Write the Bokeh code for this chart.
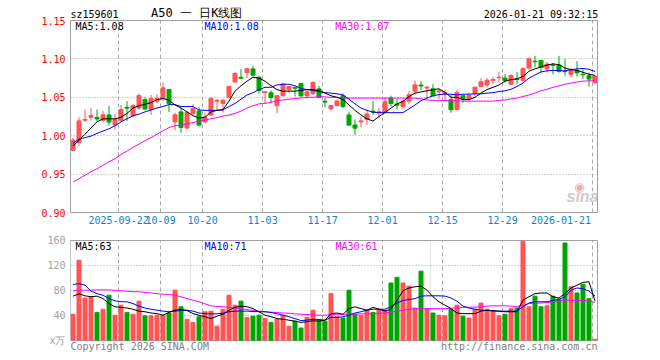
from bokeh.plotting import figure
from bokeh.models import (ColumnDataSource, FixedTicker, Label, Range1d, PrintfTickFormatter,
                          Grid, LinearAxis, CustomJSTickFormatter)
from bokeh.layouts import column
from bokeh.embed import file_html
from bokeh.resources import INLINE

# ---------------- data ----------------
dates = [
    "2025-09-10", "2025-09-11", "2025-09-12", "2025-09-15", "2025-09-16", "2025-09-17", "2025-09-18", "2025-09-19",
    "2025-09-22", "2025-09-23", "2025-09-24", "2025-09-25", "2025-09-26", "2025-09-29", "2025-09-30",
    "2025-10-09", "2025-10-10", "2025-10-13", "2025-10-14", "2025-10-15", "2025-10-16", "2025-10-17",
    "2025-10-20", "2025-10-21", "2025-10-22", "2025-10-23", "2025-10-24", "2025-10-27", "2025-10-28",
    "2025-10-29", "2025-10-30", "2025-10-31",
    "2025-11-03", "2025-11-04", "2025-11-05", "2025-11-06", "2025-11-07", "2025-11-10", "2025-11-11",
    "2025-11-12", "2025-11-13", "2025-11-14", "2025-11-17", "2025-11-18", "2025-11-19", "2025-11-20",
    "2025-11-21", "2025-11-24", "2025-11-25", "2025-11-26", "2025-11-27", "2025-11-28",
    "2025-12-01", "2025-12-02", "2025-12-03", "2025-12-04", "2025-12-05", "2025-12-08", "2025-12-09",
    "2025-12-10", "2025-12-11", "2025-12-12", "2025-12-15", "2025-12-16", "2025-12-17", "2025-12-18",
    "2025-12-19", "2025-12-22", "2025-12-23", "2025-12-24", "2025-12-25", "2025-12-26", "2025-12-29",
    "2025-12-30", "2025-12-31",
    "2026-01-05", "2026-01-06", "2026-01-07", "2026-01-08", "2026-01-09", "2026-01-12", "2026-01-13",
    "2026-01-14", "2026-01-15", "2026-01-16", "2026-01-19", "2026-01-20", "2026-01-21",
]

opens = [0.981, 0.991, 1.020, 1.024, 1.024, 1.020, 1.027, 1.014, 1.020, 1.037,
         1.026, 1.036, 1.047, 1.034, 1.045, 1.048, 1.060, 1.018, 1.031, 1.010,
         1.029, 1.032, 1.018, 1.027, 1.045, 1.042, 1.050, 1.070, 1.076, 1.082,
         1.087, 1.076, 1.056, 1.056, 1.039, 1.052, 1.060, 1.063, 1.068, 1.052,
         1.055, 1.061, 1.045, 1.035, 1.039, 1.052, 1.027, 1.014, 1.018, 1.021,
         1.032, 1.030, 1.031, 1.049, 1.041, 1.038, 1.045, 1.058, 1.066, 1.062,
         1.061, 1.057, 1.055, 1.047, 1.034, 1.052, 1.048, 1.055, 1.064, 1.066,
         1.072, 1.0755, 1.075, 1.067, 1.074, 1.072, 1.088, 1.097, 1.098, 1.087,
         1.092, 1.092, 1.084, 1.080, 1.085, 1.080, 1.078, 1.069]
closes = [0.994, 1.019, 1.021, 1.026, 1.022, 1.027, 1.018, 1.021, 1.034, 1.036,
          1.039, 1.052, 1.035, 1.048, 1.048, 1.062, 1.042, 1.027, 1.011, 1.030,
          1.035, 1.014, 1.024, 1.048, 1.046, 1.046, 1.064, 1.081, 1.075, 1.087,
          1.079, 1.059, 1.057, 1.050, 1.052, 1.067, 1.064, 1.062, 1.052, 1.057,
          1.069, 1.050, 1.044, 1.039, 1.045, 1.038, 1.014, 1.010, 1.019, 1.028,
          1.031, 1.031, 1.044, 1.042, 1.040, 1.045, 1.053, 1.066, 1.065, 1.063,
          1.052, 1.058, 1.056, 1.034, 1.056, 1.048, 1.052, 1.063, 1.070, 1.072,
          1.073, 1.076, 1.072, 1.078, 1.0735, 1.087, 1.100, 1.0965, 1.089, 1.093,
          1.0915, 1.084, 1.0835, 1.085, 1.082, 1.0795, 1.074, 1.077]
highs = [0.997, 1.024, 1.034, 1.036, 1.034, 1.032, 1.039, 1.028, 1.040, 1.045,
         1.041, 1.055, 1.050, 1.053, 1.054, 1.069, 1.060, 1.030, 1.036, 1.032,
         1.041, 1.037, 1.030, 1.050, 1.048, 1.048, 1.065, 1.083, 1.087, 1.087,
         1.091, 1.078, 1.057, 1.059, 1.052, 1.069, 1.065, 1.063, 1.068, 1.059,
         1.071, 1.065, 1.049, 1.040, 1.047, 1.055, 1.031, 1.021, 1.025, 1.034,
         1.045, 1.036, 1.050, 1.052, 1.048, 1.046, 1.058, 1.072, 1.071, 1.065,
         1.067, 1.061, 1.060, 1.053, 1.060, 1.053, 1.056, 1.063, 1.075, 1.075,
         1.077, 1.083, 1.080, 1.080, 1.083, 1.089, 1.102, 1.104, 1.098, 1.096,
         1.095, 1.104, 1.100, 1.088, 1.097, 1.086, 1.082, 1.079]
lows = [0.980, 0.987, 1.018, 1.020, 1.018, 1.018, 1.013, 1.008, 1.018, 1.019,
        1.024, 1.034, 1.033, 1.027, 1.042, 1.045, 1.031, 1.007, 1.004, 1.008,
        1.027, 1.013, 1.017, 1.026, 1.033, 1.030, 1.049, 1.069, 1.074, 1.075,
        1.077, 1.055, 1.042, 1.042, 1.029, 1.051, 1.056, 1.051, 1.051, 1.048,
        1.053, 1.049, 1.037, 1.033, 1.038, 1.036, 1.013, 1.001, 1.011, 1.014,
        1.027, 1.023, 1.029, 1.038, 1.034, 1.035, 1.041, 1.053, 1.059, 1.048,
        1.051, 1.048, 1.045, 1.030, 1.033, 1.043, 1.045, 1.053, 1.063, 1.063,
        1.067, 1.069, 1.069, 1.066, 1.067, 1.071, 1.086, 1.089, 1.082, 1.082,
        1.080, 1.082, 1.078, 1.076, 1.077, 1.074, 1.064, 1.067]

ma5 = [0.9865, 0.994, 1.002, 1.010, 1.018, 1.022, 1.022, 1.022, 1.024, 1.029,
       1.036, 1.039, 1.041, 1.043, 1.047, 1.0485, 1.046, 1.040, 1.036, 1.031,
       1.026, 1.023, 1.024, 1.031, 1.033, 1.034, 1.045, 1.058, 1.065, 1.071,
       1.076, 1.075, 1.071, 1.065, 1.060, 1.058, 1.058, 1.058, 1.059, 1.060,
       1.060, 1.0585, 1.0555, 1.052, 1.050, 1.047, 1.040, 1.033, 1.027, 1.022,
       1.019, 1.025, 1.030, 1.036, 1.0415, 1.0445, 1.051, 1.0555, 1.057, 1.0585,
       1.060, 1.061, 1.0565, 1.050, 1.050, 1.047, 1.047, 1.050, 1.0555, 1.060,
       1.063, 1.066, 1.071, 1.073, 1.074, 1.077, 1.084, 1.087, 1.0895, 1.092,
       1.0935, 1.0925, 1.088, 1.086, 1.085, 1.0825, 1.080, 1.0785]
ma10 = [0.990, 0.9955, 0.9975, 0.9995, 1.003, 1.006, 1.009, 1.013, 1.018, 1.022,
        1.026, 1.028, 1.031, 1.0335, 1.036, 1.038, 1.0405, 1.0405, 1.038, 1.038,
        1.038, 1.0335, 1.033, 1.033, 1.033, 1.0335, 1.038, 1.042, 1.0475, 1.053,
        1.056, 1.060, 1.063, 1.063, 1.066, 1.067, 1.067, 1.065, 1.0615, 1.060,
        1.059, 1.0575, 1.056, 1.0555, 1.0545, 1.053, 1.0475, 1.0415, 1.036, 1.033,
        1.0305, 1.030, 1.030, 1.030, 1.030, 1.030, 1.035, 1.040, 1.0455, 1.049,
        1.052, 1.0535, 1.054, 1.054, 1.053, 1.054, 1.054, 1.0545, 1.0545, 1.0555,
        1.056, 1.0575, 1.0585, 1.0605, 1.064, 1.0685, 1.075, 1.079, 1.083, 1.0845,
        1.085, 1.085, 1.0845, 1.086, 1.087, 1.0875, 1.0865, 1.0835]
ma30 = [0.9397, 0.944, 0.9485, 0.953, 0.957, 0.9615, 0.966, 0.970, 0.9755, 0.980,
        0.985, 0.989, 0.9935, 0.9975, 1.002, 1.0065, 1.0105, 1.013, 1.014, 1.0155,
        1.017, 1.019, 1.0205, 1.022, 1.0235, 1.0255, 1.027, 1.029, 1.032, 1.036,
        1.039, 1.0415, 1.042, 1.0435, 1.0455, 1.0465, 1.0475, 1.0485, 1.049, 1.050,
        1.050, 1.051, 1.0505, 1.050, 1.050, 1.049, 1.049, 1.049, 1.049, 1.049,
        1.049, 1.049, 1.049, 1.049, 1.049, 1.049, 1.049, 1.049, 1.048, 1.0465,
        1.046, 1.046, 1.046, 1.0455, 1.0455, 1.045, 1.045, 1.045, 1.045, 1.045,
        1.045, 1.046, 1.0465, 1.048, 1.049, 1.051, 1.053, 1.0555, 1.0585, 1.0605,
        1.063, 1.065, 1.067, 1.0685, 1.070, 1.071, 1.0715, 1.0715]

volumes = [42, 128.5, 68, 70, 45, 50, 72.5, 40.5, 56.5, 45,
           42, 63, 39.5, 39.5, 40.5, 40.5, 44, 80.5, 54, 34,
           29, 38, 46, 47, 23, 50, 72.5, 56.5, 63, 37,
           39, 40.5, 35, 29, 34, 40.5, 23, 31, 20, 37,
           48.5, 32.5, 31, 75, 38, 36, 80.5, 42, 40.5, 48.5,
           45, 50, 48.5, 92, 101, 92, 87, 52, 111, 51,
           44, 40.5, 39.5, 50, 56.5, 39, 36, 50, 60, 50,
           47, 39.5, 42, 51, 52, 159, 54, 71, 54, 55.5,
           71, 66, 156, 86, 76, 90, 67, 2]
vma5 = [71, 74.7, 71.5, 70, 71, 67, 59, 54, 53, 52,
        50, 47, 46, 44, 43, 40.5, 45, 48.5, 49.6, 48,
        43, 40.5, 38, 35, 39, 42, 48.5, 53, 55, 54,
        51, 46, 40.5, 38, 35, 34, 32.5, 31, 29, 30,
        31.5, 31, 32.5, 43, 44, 42, 51, 54, 51, 48.5,
        53, 50, 47, 50, 64.5, 79.5, 84, 86, 87, 80.5,
        70, 62, 56.5, 51, 44, 43, 43, 43, 47, 48.5,
        47.5, 47, 46, 46, 46, 64.5, 70, 75, 76, 76,
        70, 68, 75, 84, 88.5, 93, 94, 63]
vma10 = [89.6, 91, 88.5, 79, 75, 72.5, 67, 63.5, 62, 62,
         59, 55, 52, 50, 48.5, 47, 46, 47, 48, 48.5,
         47, 44, 43, 42.7, 42.7, 43.7, 46, 47, 47, 47,
         46.4, 46, 46, 44.8, 42.7, 40.5, 38, 35, 32, 32.5,
         34, 33.6, 32.5, 37, 37, 38, 40.5, 44, 46, 48.5,
         50, 50, 50, 54, 60, 64, 65.6, 67, 71, 71.5,
         71.5, 71.5, 71, 68, 63, 55, 52, 50, 48.5, 48,
         47.5, 47, 47, 47, 47, 54, 60, 62, 62, 62,
         64, 66, 70, 80.5, 84, 83, 79, 71]
vma30 = [79.5, 80.5, 80.5, 80.5, 81, 81, 81, 80, 79.5, 79,
         78, 78, 77, 76, 75, 74, 74, 72.5, 70, 67,
         64.5, 62, 58.7, 55.5, 54.4, 54, 53, 52, 51, 49.6,
         48, 47, 46, 45.3, 44.8, 44, 43.7, 42.7, 42, 41.6,
         41, 40.5, 40.5, 41.6, 42, 42, 42, 42, 42.7, 42.7,
         43, 43.7, 44, 45.3, 47, 48.5, 50, 51, 51, 51,
         51, 51, 51, 51.7, 52, 53, 53.3, 53.3, 54, 55,
         55.5, 55.5, 55.5, 55, 54.4, 56.5, 59, 59.7, 60, 60.8,
         62, 63, 64.5, 64.5, 64, 64, 63, 61]

price_ticks = [0.90, 0.95, 1.00, 1.05, 1.10, 1.15]
vol_ticks = [0, 40, 80, 120, 160]
vol_tick_labels = ["x万", "40", "80", "120", "160"]
tick_dates = ["2025-09-22", "2025-10-09", "2025-10-20", "2025-11-03", "2025-11-17",
              "2025-12-01", "2025-12-15", "2025-12-29", "2026-01-21"]
tick_labels = ["2025-09-22", "10-09", "10-20", "11-03", "11-17",
               "12-01", "12-15", "12-29", "2026-01-21"]
header_texts = ["sz159601", "2026-01-21 09:32:15"]
title_text = "A50 一 日K线图"
footer_texts = ["Copyright 2026 SINA.COM", "http://finance.sina.com.cn"]

# ---------------- styling ----------------
FONT = "DejaVu Sans Mono"
RED, GREEN = "#ff5555", "#00a600"
C5, C10, C30 = "#000000", "#0000ff", "#ff00ff"
BORDER = "#a0a0a0"
GRIDC = "#a8a8a8"
DATEC = "#0a84d4"

n = len(dates)
xs = [i + 0.4 for i in range(n)]
colors = [RED if c >= o else GREEN for o, c in zip(opens, closes)]
src = ColumnDataSource(dict(
    x=xs, o=opens, h=highs, l=lows, c=closes,
    top=[max(a, b) for a, b in zip(opens, closes)],
    bot=[min(a, b) for a, b in zip(opens, closes)],
    x0=[x - 0.36 for x in xs], x1=[x + 0.36 for x in xs],
    color=colors, ma5=ma5, ma10=ma10, ma30=ma30,
    vol=volumes, vma5=vma5, vma10=vma10, vma30=vma30,
))
grid_ticks = [dates.index(d) for d in tick_dates]


# helpers mapping reference-pixel positions to data coords (text placement only)
def X(px):
    return -0.017 + (px - 70) / 6.0


def P(py):
    return 1.15 - (py - 20) / 768.0


def V(py):
    return (340 - py) * 1.6


xr = Range1d(-0.017, 87.817)


def style_axis(ax, color, standoff, size="10px"):
    ax.axis_line_color = None
    ax.major_tick_line_color = None
    ax.minor_tick_line_color = None
    ax.major_tick_out = 0
    ax.major_tick_in = 0
    ax.minor_tick_out = 0
    ax.minor_tick_in = 0
    ax.major_label_text_font = FONT
    ax.major_label_text_font_size = size
    ax.major_label_text_color = color
    ax.major_label_standoff = standoff


def index_formatter(labels):
    return CustomJSTickFormatter(args=dict(labels=labels),
                                 code="return labels[index] == null ? '' : labels[index];")


def label(p, x, y, text, color, size="10px", align="left", style="normal", font=FONT):
    p.add_layout(Label(x=x, y=y, text=text, text_color=color, text_font=font,
                       text_font_size=size, text_align=align, text_baseline="middle",
                       text_font_style=style))


# ---------------- price panel ----------------
p1 = figure(width=656, height=234, x_range=xr, y_range=Range1d(0.90, 1.15),
            output_backend="svg", toolbar_location=None, title=None,
            min_border_left=70, min_border_right=59, min_border_top=20, min_border_bottom=22)
p1.outline_line_color = BORDER
p1.outline_line_width = 1

style_axis(p1.yaxis[0], "#ff0000", 5)
p1.yaxis.ticker = FixedTicker(ticks=price_ticks)
p1.yaxis.formatter = PrintfTickFormatter(format="%.2f")

# date labels: last one is right-aligned to its grid line in the reference
date_label_pos = grid_ticks[:-1] + [X(560.5)]
style_axis(p1.xaxis[0], DATEC, 3)
p1.xaxis.ticker = FixedTicker(ticks=date_label_pos)
p1.xaxis.formatter = index_formatter(tick_labels)

# header row (symbol, timestamp) as an axis above the frame; the title as its axis label,
# padded with no-break spaces so it sits left of centre on the same row
head_axis = LinearAxis(ticker=FixedTicker(ticks=[X(94), X(540.5)]),
                       formatter=index_formatter(header_texts))
style_axis(head_axis, "#000000", 1)
head_axis.axis_label = title_text + "\u00a0" * 38
head_axis.axis_label_text_font = FONT
head_axis.axis_label_text_font_size = "12px"
head_axis.axis_label_text_font_style = "normal"
head_axis.axis_label_text_color = "#000000"
head_axis.axis_label_standoff = -14
p1.add_layout(head_axis, "above")

p1.ygrid.ticker = FixedTicker(ticks=price_ticks[1:-1])
p1.ygrid.grid_line_color = GRIDC
p1.ygrid.grid_line_dash = "1 2"
p1.xgrid.ticker = FixedTicker(ticks=grid_ticks)
p1.xgrid.grid_line_color = GRIDC
p1.xgrid.grid_line_dash = "4 3"

p1.segment(x0="x", y0="l", x1="x", y1="h", color="color", line_width=1, source=src)
p1.vbar(x="x", width=0.667, top="top", bottom="bot", fill_color="color",
        line_color="color", line_width=1, source=src)
p1.segment(x0="x0", y0="c", x1="x1", y1="c", color="color", line_width=1, source=src)

p1.line("x", "ma30", color=C30, line_width=1, source=src)
p1.line("x", "ma10", color=C10, line_width=1, source=src)
p1.line("x", "ma5", color=C5, line_width=1, source=src)

label(p1, X(75), P(26), "MA5:%.2f" % ma5[-1], C5)
label(p1, X(204), P(26), "MA10:%.2f" % ma10[-1], C10)
label(p1, X(334.7), P(26), "MA30:%.2f" % ma30[-1], C30)
label(p1, X(579), P(186), "\u25c9", "#f4a8a8", size="12px", align="center", font="DejaVu Sans")
label(p1, X(598), P(196), "sina", "#cccccc", size="16px", align="right",
      style="bold italic", font="Liberation Sans")

# ---------------- volume panel ----------------
p2 = figure(width=656, height=124, x_range=xr, y_range=Range1d(0, 160),
            output_backend="svg", toolbar_location=None, title=None,
            x_axis_location=None,
            min_border_left=70, min_border_right=59, min_border_top=6, min_border_bottom=18)
p2.outline_line_color = BORDER
p2.outline_line_width = 1
style_axis(p2.yaxis[0], "#a0a0a0", 5)
p2.yaxis.ticker = FixedTicker(ticks=vol_ticks)
p2.yaxis.formatter = index_formatter(vol_tick_labels)
p2.ygrid.ticker = FixedTicker(ticks=vol_ticks[1:-1])
p2.ygrid.grid_line_color = GRIDC
p2.ygrid.grid_line_dash = "1 2"
p2.add_layout(Grid(dimension=0, ticker=FixedTicker(ticks=grid_ticks),
                   grid_line_color=GRIDC, grid_line_dash="4 3"))

foot_axis = LinearAxis(ticker=FixedTicker(ticks=[X(139.2), X(518.7)]),
                       formatter=index_formatter(footer_texts))
style_axis(foot_axis, "#808080", 0)
p2.add_layout(foot_axis, "below")

p2.vbar(x="x", width=0.667, top="vol", bottom=0, fill_color="color",
        line_color="color", line_width=1, source=src)
p2.line("x", "vma30", color=C30, line_width=1, source=src)
p2.line("x", "vma10", color=C10, line_width=1, source=src)
p2.line("x", "vma5", color=C5, line_width=1, source=src)

label(p2, X(75), V(246), "MA5:%d" % round(vma5[-1]), C5)
label(p2, X(204), V(246), "MA10:%d" % round(vma10[-1]), C10)
label(p2, X(335), V(246), "MA30:%d" % round(vma30[-1]), C30)

layout = column(p1, p2, spacing=0)
open("out.html", "w").write(file_html(layout, INLINE))
